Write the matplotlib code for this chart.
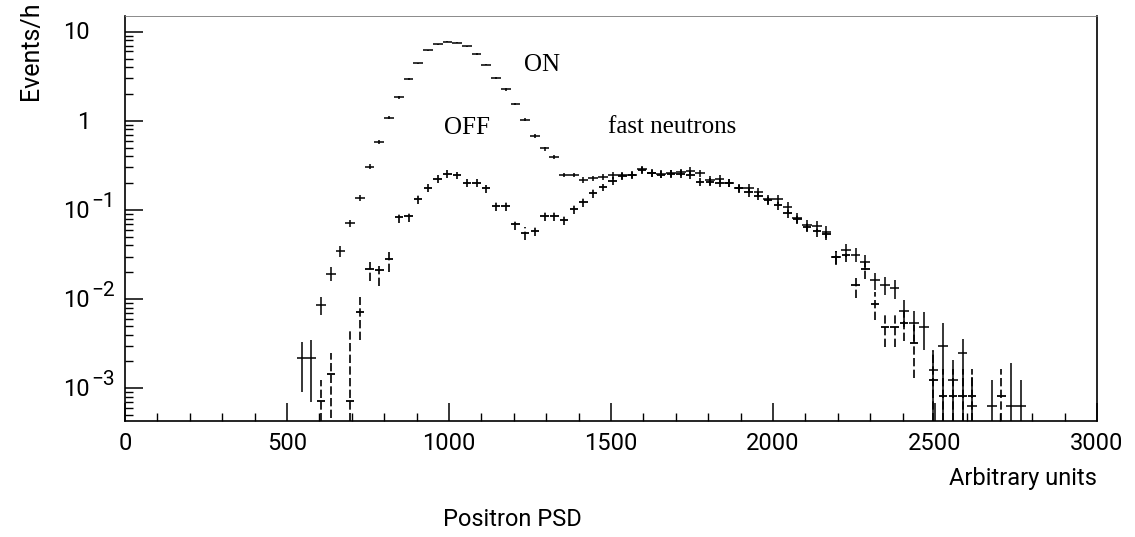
import matplotlib
matplotlib.use("Agg")
import matplotlib.pyplot as plt
import matplotlib.font_manager as fm
from matplotlib.ticker import MultipleLocator, LogLocator, NullFormatter

# ---------------- data (bin centres in arbitrary units, rates in events/h) -------------
on_x = [545, 575, 605, 635, 665, 695, 725, 755, 785, 815, 845, 875, 905, 935, 965, 995,
        1025, 1055, 1085, 1115, 1145, 1175, 1205, 1235, 1265, 1295, 1325, 1355, 1385,
        1415, 1445, 1475, 1505, 1535, 1565, 1595, 1625, 1655, 1685, 1715, 1745, 1775,
        1805, 1835, 1865, 1895, 1925, 1955, 1985, 2015, 2045, 2075, 2105, 2135, 2165,
        2195, 2225, 2255, 2285, 2315, 2345, 2375, 2405, 2435, 2465, 2495, 2525, 2555,
        2585, 2615, 2675, 2735, 2765]
on_y = [2.2e-3, 2.2e-3, 8.6e-3, 0.0194, 0.0346, 0.0708, 0.138, 0.307, 0.575, 1.09, 1.83,
        2.94, 4.4, 6.17, 7.27, 7.72, 7.5, 6.84, 5.61, 4.26, 3.02, 2.25, 1.55, 1.03, 0.68,
        0.49, 0.39, 0.247, 0.247, 0.217, 0.227, 0.237, 0.245, 0.247, 0.25, 0.286, 0.262,
        0.253, 0.258, 0.265, 0.274, 0.258, 0.217, 0.22, 0.203, 0.178, 0.178, 0.158, 0.132,
        0.132, 0.109, 0.082, 0.068, 0.066, 0.057, 0.0294, 0.0356, 0.0316, 0.0263, 0.0163,
        0.0144, 0.0132, 0.0073, 0.0054, 0.0049, 0.0016, 0.0030, 0.00123, 0.0025, 6.3e-4,
        6.3e-4, 6.3e-4, 6.3e-4]
on_err_lo = [1.3e-3, 1.5e-3, 2.0e-3, 3.5e-3, 5e-3, 7e-3, 0.011, 0.02, 0.03, 0.04, 0.05,
             0.07, 0.08, 0.1, 0.1, 0.1, 0.1, 0.1, 0.09, 0.08, 0.07, 0.06, 0.05, 0.04, 0.03,
             0.025, 0.02, 0.015, 0.015, 0.015, 0.016, 0.018, 0.02, 0.022, 0.024, 0.026,
             0.025, 0.025, 0.026, 0.026, 0.027, 0.026, 0.024, 0.024, 0.022, 0.02, 0.02,
             0.018, 0.016, 0.016, 0.014, 0.011, 0.01, 0.01, 0.009, 0.0055, 0.006, 0.0055,
             0.005, 0.0035, 0.0033, 0.0032, 0.0024, 0.002, 0.0022, 0.0016, 0.0030, 0.00123,
             0.0025, 6.3e-4, 6.3e-4, 6.3e-4, 6.3e-4]
on_err_hi = [1.1e-3, 1.3e-3, 2.0e-3, 3.5e-3, 5e-3, 7e-3, 0.011, 0.02, 0.03, 0.04, 0.05,
             0.07, 0.08, 0.1, 0.1, 0.1, 0.1, 0.1, 0.09, 0.08, 0.07, 0.06, 0.05, 0.04, 0.03,
             0.025, 0.02, 0.015, 0.015, 0.015, 0.016, 0.018, 0.02, 0.022, 0.024, 0.026,
             0.025, 0.025, 0.026, 0.026, 0.027, 0.026, 0.024, 0.024, 0.022, 0.02, 0.02,
             0.018, 0.016, 0.016, 0.014, 0.011, 0.01, 0.01, 0.009, 0.0055, 0.006, 0.0055,
             0.005, 0.0035, 0.0033, 0.0032, 0.0024, 0.002, 0.0022, 0.0011, 0.0024, 0.00085,
             0.0011, 7e-4, 6e-4, 1.3e-3, 6e-4]

off_x = [605, 635, 695, 725, 755, 785, 815, 845, 875, 905, 935, 965, 995, 1025, 1055,
         1085, 1115, 1145, 1175, 1205, 1235, 1265, 1295, 1325, 1355, 1385, 1415, 1445,
         1475, 1505, 1535, 1565, 1595, 1625, 1655, 1685, 1715, 1745, 1775, 1805, 1835,
         1865, 1895, 1925, 1955, 1985, 2015, 2045, 2075, 2105, 2135, 2165, 2195, 2225,
         2255, 2285, 2315, 2345, 2375, 2405, 2435, 2495, 2525, 2555, 2585, 2615, 2705]
off_y = [7.3e-4, 1.46e-3, 7.3e-4, 7.2e-3, 0.022, 0.0212, 0.028, 0.084, 0.086, 0.132, 0.178,
         0.223, 0.254, 0.245, 0.201, 0.201, 0.175, 0.111, 0.111, 0.0696, 0.0547, 0.0586,
         0.0857, 0.0857, 0.0773, 0.1026, 0.122, 0.154, 0.18, 0.213, 0.24, 0.245, 0.28,
         0.26, 0.25, 0.255, 0.255, 0.247, 0.208, 0.208, 0.2, 0.2, 0.175, 0.158, 0.145,
         0.13, 0.114, 0.092, 0.08, 0.065, 0.058, 0.054, 0.03, 0.031, 0.0144, 0.0218,
         0.0089, 0.0049, 0.0049, 0.0054, 0.0032, 0.00123, 8.3e-4, 8.3e-4, 8.3e-4, 8.3e-4,
         8.3e-4]
off_err_lo = [7.3e-4, 1.0e-3, 7.3e-4, 3.7e-3, 0.006, 0.007, 0.008, 0.012, 0.012, 0.014,
              0.018, 0.022, 0.024, 0.024, 0.02, 0.02, 0.018, 0.014, 0.014, 0.01, 0.009,
              0.008, 0.01, 0.01, 0.009, 0.012, 0.013, 0.016, 0.018, 0.02, 0.022, 0.022,
              0.025, 0.024, 0.024, 0.025, 0.025, 0.025, 0.022, 0.022, 0.02, 0.02, 0.018,
              0.017, 0.016, 0.015, 0.013, 0.011, 0.01, 0.009, 0.008, 0.008, 0.005, 0.005,
              0.004, 0.005, 0.003, 0.002, 0.002, 0.002, 0.0019, 0.00123, 8.3e-4, 8.3e-4,
              8.3e-4, 8.3e-4, 8.3e-4]
off_err_hi = [5e-4, 1.0e-3, 3.8e-3, 3.4e-3, 0.004, 0.004, 0.007, 0.012, 0.012, 0.014,
              0.018, 0.022, 0.024, 0.024, 0.02, 0.02, 0.018, 0.014, 0.014, 0.01, 0.009,
              0.008, 0.01, 0.01, 0.009, 0.012, 0.013, 0.016, 0.018, 0.02, 0.022, 0.022,
              0.025, 0.024, 0.024, 0.025, 0.025, 0.025, 0.022, 0.022, 0.02, 0.02, 0.018,
              0.017, 0.016, 0.015, 0.013, 0.011, 0.01, 0.009, 0.008, 0.008, 0.005, 0.005,
              0.004, 0.005, 0.003, 0.002, 0.002, 0.002, 0.0019, 0.0014, 8.3e-4, 8.3e-4,
              8.3e-4, 8.3e-4, 8.3e-4]

bin_half_width = 15
x_ticks = [0, 500, 1000, 1500, 2000, 2500, 3000]
x_tick_labels = ["0", "500", "1000", "1500", "2000", "2500", "3000"]
y_tick_values = [10, 1, 0.1, 0.01, 0.001]
y_tick_bases = ["10", "1", "10", "10", "10"]
y_tick_exps = ["", "", "\u22121", "\u22122", "\u22123"]

# ---------------- fonts ----------------
names = {f.name for f in fm.fontManager.ttflist}
SANS = [n for n in ["Roboto", "DejaVu Sans"] if n in names] or ["DejaVu Sans"]
SERIF = [n for n in ["Liberation Serif", "DejaVu Serif"] if n in names] or ["serif"]
plt.rcParams["font.family"] = SANS

W, H = 1135, 537
fig = plt.figure(figsize=(W / 100, H / 100), dpi=100)
L, R, T, B = 125, 1097, 16, 421
ax = fig.add_axes([L / W, 1 - B / H, (R - L) / W, (B - T) / H])

ax.set_yscale("log", nonpositive="clip")
ax.set_xlim(0, 3000)
ax.set_ylim(4.3e-4, 15)

# ON: bin-width dashes with solid error bars
ax.errorbar(on_x, on_y, yerr=[on_err_lo, on_err_hi], xerr=bin_half_width, fmt="none",
            ecolor="black", elinewidth=1.1, capsize=0)
# OFF: crosses with dashed vertical error bars
ax.errorbar(off_x, off_y, xerr=bin_half_width - 2, fmt="none", ecolor="black",
            elinewidth=1.3, capsize=0)
eb = ax.errorbar(off_x, off_y, yerr=[off_err_lo, off_err_hi], fmt="none", ecolor="black",
                 elinewidth=1.2, capsize=0)
eb[2][0].set_linestyle((0, (5, 2)))

# axes styling
for s in ax.spines.values():
    s.set_linewidth(1.2)
ax.spines["top"].set_linewidth(0.6)
ax.spines["top"].set_color("#777777")

ax.xaxis.set_minor_locator(MultipleLocator(100))
ax.set_xticks(x_ticks)
ax.set_xticklabels(x_tick_labels, fontsize=17)
ax.yaxis.set_major_locator(LogLocator(base=10, numticks=10))
ax.yaxis.set_minor_locator(LogLocator(base=10, subs=range(2, 10), numticks=20))
ax.yaxis.set_major_formatter(NullFormatter())
ax.yaxis.set_minor_formatter(NullFormatter())
ax.tick_params(which="major", direction="in", length=13, width=1.1, top=False, right=False)
ax.tick_params(which="minor", direction="in", length=6, width=1.0, top=False, right=False)
ax.tick_params(axis="x", which="major", pad=8)

# custom y tick labels (10, 1, 10^-1 ...)
for v, b, e in zip(y_tick_values, y_tick_bases, y_tick_exps):
    ax.annotate(b, xy=(90 / W, v), xycoords=("figure fraction", "data"),
                xytext=(0, -5.6), textcoords="offset points", ha="right", va="baseline",
                fontsize=17)
    if e:
        ax.annotate(e, xy=(91 / W, v), xycoords=("figure fraction", "data"),
                    xytext=(0, 2.5), textcoords="offset points", ha="left", va="baseline",
                    fontsize=15)

# axis titles
fig.text(1097 / W, 1 - 478 / H, "Arbitrary units", ha="right", va="center", fontsize=17)
fig.text(512 / W, 1 - 520 / H, "Positron PSD", ha="center", va="center", fontsize=17)
fig.text(31 / W, 1 - 2 / H, "Events/h", rotation=90, ha="center", va="top", fontsize=18)

# annotations
ax.text(1287, 4.26, "ON", family=SERIF, fontsize=18, ha="center", va="center")
ax.text(1056, 0.834, "OFF", family=SERIF, fontsize=18, ha="center", va="center")
ax.text(1688, 0.857, "fast neutrons", family=SERIF, fontsize=18, ha="center", va="center")

fig.savefig("out.png", dpi=100)
